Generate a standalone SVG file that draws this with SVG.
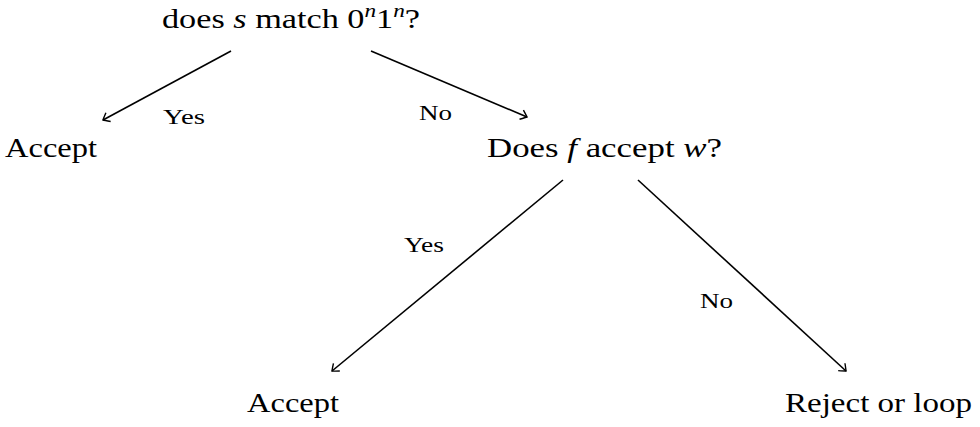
<svg xmlns="http://www.w3.org/2000/svg" width="980" height="427" viewBox="0 0 980 427">
<defs>
<style>
.t{font-family:"Liberation Serif","DejaVu Serif",serif;font-size:28px;fill:#000}
.s{font-family:"Liberation Serif","DejaVu Serif",serif;font-size:22px;fill:#000}
.i{font-style:italic}
.e{stroke:#000;stroke-width:1.6;fill:none;marker-end:url(#a)}
</style>
<marker id="a" viewBox="-8 -6 10 12" markerWidth="10" markerHeight="12" refX="0" refY="0" orient="auto" markerUnits="userSpaceOnUse">
<path d="M-6,-5 Q-1,-1 0,0 Q-1,1 -6,5" fill="none" stroke="#000" stroke-width="1.4"/>
</marker>
</defs>
<rect width="980" height="427" fill="#fff"/>
<g id="connectors">
<line class="e" x1="231" y1="51" x2="103" y2="120"/>
<line class="e" x1="371" y1="51" x2="527" y2="117"/>
<line class="e" x1="563" y1="180" x2="332" y2="371"/>
<line class="e" x1="638" y1="180" x2="846" y2="371"/>
<text class="s" x="163" y="124" textLength="42" lengthAdjust="spacingAndGlyphs">Yes</text>
<text class="s" x="419" y="120" textLength="33" lengthAdjust="spacingAndGlyphs">No</text>
<text class="s" x="404" y="252" textLength="40" lengthAdjust="spacingAndGlyphs">Yes</text>
<text class="s" x="700" y="308" textLength="33" lengthAdjust="spacingAndGlyphs">No</text>
</g>
<g id="root">
<text class="t" x="162" y="28" textLength="258" lengthAdjust="spacingAndGlyphs">does <tspan class="i">s</tspan> match 0<tspan class="i" font-size="19" dy="-11">n</tspan><tspan dy="11">1</tspan><tspan class="i" font-size="19" dy="-11">n</tspan><tspan dy="11">?</tspan></text>
</g>
<g id="accept1">
<text class="t" x="5" y="157" textLength="92" lengthAdjust="spacingAndGlyphs">Accept</text>
</g>
<g id="does-f">
<text class="t" x="487" y="157" textLength="235" lengthAdjust="spacingAndGlyphs">Does <tspan class="i">f</tspan> accept <tspan class="i">w</tspan>?</text>
</g>
<g id="accept2">
<text class="t" x="247" y="412" textLength="92" lengthAdjust="spacingAndGlyphs">Accept</text>
</g>
<g id="reject">
<text class="t" x="785" y="412" textLength="187" lengthAdjust="spacingAndGlyphs">Reject or loop</text>
</g>
</svg>
